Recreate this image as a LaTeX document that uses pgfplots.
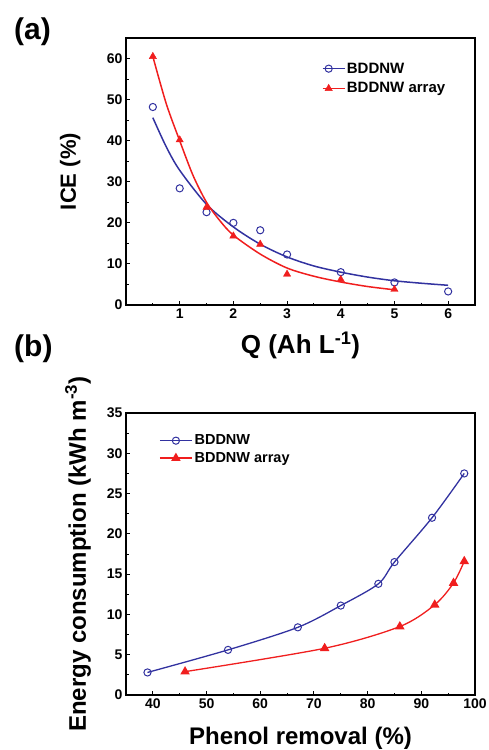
\documentclass[border=0pt]{standalone}
\usepackage{fontspec}
\setmainfont{Liberation Sans}
\usepackage{pgfplots}
\pgfplotsset{compat=1.18}

\definecolor{myblue}{RGB}{50,50,160}
\definecolor{myred}{RGB}{240,30,30}

\pgfplotsset{
  panel/.style={
    scale only axis,
    width=349pt,
    axis line style={line width=1.1pt},
    tick style={black, line width=0.9pt},
    tick align=inside,
    major tick length=4pt,
    minor tick length=2.5pt,
    xtick pos=bottom, ytick pos=left,
    /pgf/number format/assume math mode=true,
    tick label style={font=\fontsize{14}{15}\selectfont\bfseries},
    legend style={draw=none, fill=none, font=\fontsize{15}{17}\selectfont\bfseries,
      row sep=4pt},
    legend cell align=left,
  },
}

\begin{document}
\begin{tikzpicture}
\path[use as bounding box] (0,0) rectangle (489pt,-750pt);

\node[anchor=north west, inner sep=0pt, font=\fontsize{30}{32}\selectfont\bfseries] at (14pt,-18pt) {(a)};
\node[anchor=north west, inner sep=0pt, font=\fontsize{30}{32}\selectfont\bfseries] at (14pt,-335pt) {(b)};

% ---- (a)
\begin{axis}[panel,
  at={(126pt,-305pt)}, anchor=south west,
  height=267pt,
  xmin=0, xmax=6.5, ymin=0, ymax=65,
  xtick={1,2,3,4,5,6}, minor xtick={0.5,1.5,2.5,3.5,4.5,5.5},
  ytick={0,10,20,30,40,50,60}, minor ytick={5,15,25,35,45,55},
  xlabel={Q (Ah L\textsuperscript{-1})},
  ylabel={ICE (\%)},
  xlabel style={font=\fontsize{26}{28}\selectfont\bfseries, at={(axis description cs:0.5,-0.15)}, anchor=center},
  ylabel style={font=\fontsize{22}{24}\selectfont\bfseries, at={(axis description cs:-0.16,0.5)}, anchor=center},
  legend style={at={(axis cs:3.6,60)}, anchor=north west},
  legend image code/.code={\path (-6pt,0pt) -- (16pt,0pt); \draw[#1] plot coordinates {(0pt,0pt)};},
]
\addplot[only marks, mark=o, mark size=3.6pt, myblue, mark options={line width=1pt}]
coordinates {(0.5,48.2) (1,28.4) (1.5,22.6) (2,20) (2.5,18.2) (3,12.3) (4,8) (5,5.5) (6,3.3)};
\addplot[only marks, mark=triangle*, mark size=4.2pt, myred]
coordinates {(0.5,60.5) (1,40.2) (1.5,23.8) (2,16.8) (2.5,14.8) (3,7.5) (4,6.2) (5,3.8)};
\legend{BDDNW, BDDNW array}
% fitted curves
\addplot[myblue, line width=1.5pt, smooth]
coordinates {(0.5,45.6) (0.75,38.5) (1,32.8) (1.5,24.5) (2,19) (2.5,14.8) (3,11.7) (3.5,9.5) (4,8) (4.5,6.8) (5,5.9) (5.5,5.3) (6,4.8)};
\addplot[myred, line width=1.5pt, smooth]
coordinates {(0.5,60.5) (0.75,49) (1,40) (1.25,31.5) (1.5,25) (1.75,20.5) (2,17) (2.5,12.4) (3,9) (3.5,7) (4,5.6) (4.5,4.5) (5,3.7)};
\end{axis}

% ---- (b)
\begin{axis}[panel,
  at={(126pt,-695pt)}, anchor=south west,
  height=282pt,
  xmin=35, xmax=100, ymin=0, ymax=35,
  xtick={40,50,...,100}, minor xtick={45,55,...,95},
  ytick={0,5,...,35}, minor ytick={2.5,7.5,...,32.5},
  xlabel={Phenol removal (\%)},
  ylabel={Energy consumption (kWh m\textsuperscript{-3})},
  xlabel style={font=\fontsize{24}{26}\selectfont\bfseries, at={(axis description cs:0.5,-0.152)}, anchor=center},
  ylabel style={font=\fontsize{24}{26}\selectfont\bfseries, at={(axis description cs:-0.1375,0.5)}, anchor=center},
  legend style={at={(axis cs:40.6,32.8)}, anchor=north west, font=\fontsize{14.5}{16}\selectfont\bfseries, row sep=2pt},
  legend image code/.code={\draw[mark repeat=2, mark phase=2, #1] plot coordinates {(0pt,0pt) (16pt,0pt) (32pt,0pt)};},
]
\addplot[myblue, line width=1.3pt, smooth, mark=o, mark size=3.6pt, mark options={line width=1pt, fill=white}]
coordinates {(39,2.8) (54,5.6) (67,8.4) (75,11.1) (82,13.8) (85,16.5) (92,22) (98,27.5)};
\addplot[myred, line width=1.3pt, smooth, mark=triangle*, mark size=4.2pt]
coordinates {(46,2.9) (72,5.8) (86,8.5) (92.5,11.2) (96,13.9) (98,16.6)};
\legend{BDDNW, BDDNW array}
\end{axis}
\end{tikzpicture}
\end{document}
